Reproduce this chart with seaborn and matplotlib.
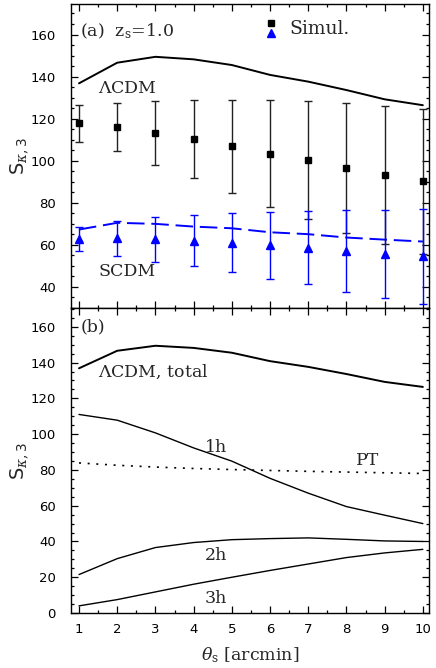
import matplotlib
matplotlib.use('Agg')
import matplotlib.pyplot as plt
import seaborn as sns
from matplotlib.legend_handler import HandlerBase
from matplotlib.lines import Line2D
from matplotlib.ticker import MultipleLocator

# Values
theta = [1, 2, 3, 4, 5, 6, 7, 8, 9, 10]

# panel (a): halo model predictions
lcdm_model = [136.8, 146.6, 149.4, 148.2, 145.5, 140.8, 137.6, 133.6, 129.2, 126.4]
scdm_model = [67.3, 70.5, 70.0, 68.7, 67.9, 66.0, 65.1, 63.5, 62.5, 61.6]

# panel (a): simulation measurements
sim_lcdm = [117.8, 116.1, 113.1, 110.2, 106.9, 103.3, 100.3, 96.5, 93.3, 90.3]
sim_lcdm_err = [8.7, 11.5, 15.3, 18.6, 22.0, 25.5, 28.0, 30.8, 32.8, 34.5]
sim_scdm = [62.8, 63.2, 62.6, 62.0, 61.1, 59.8, 58.7, 57.1, 55.8, 54.5]
sim_scdm_err = [5.9, 8.3, 10.6, 12.2, 14.0, 15.8, 17.4, 19.4, 21.0, 22.6]

# panel (b): LCDM decomposition
lcdm_total = lcdm_model
one_halo = [111.0, 107.8, 100.7, 92.3, 84.9, 75.3, 67.0, 59.5, 54.7, 50.0]
two_halo = [21.5, 30.4, 36.6, 39.4, 41.0, 41.6, 42.0, 41.2, 40.3, 40.0]
three_halo = [4.0, 7.5, 11.8, 16.1, 20.0, 23.8, 27.4, 31.0, 33.6, 35.6]
pert_theory = [83.9, 82.6, 81.6, 80.8, 80.2, 79.7, 79.2, 78.8, 78.4, 78.0]

sns.set_style('ticks')
plt.rcParams['font.family'] = ['DejaVu Sans']
plt.rcParams.update({
    'mathtext.fontset': 'dejavuserif',
    'xtick.direction': 'in', 'ytick.direction': 'in',
    'xtick.top': True, 'ytick.right': True,
    'xtick.major.size': 5, 'ytick.major.size': 5,
    'xtick.minor.size': 2.5, 'ytick.minor.size': 2.5,
    'xtick.major.width': 0.9, 'ytick.major.width': 0.9,
    'xtick.minor.width': 0.9, 'ytick.minor.width': 0.9,
    'axes.linewidth': 1.0,
    'xtick.labelsize': 9.5, 'ytick.labelsize': 9.5,
    'xtick.color': 'k', 'ytick.color': 'k', 'axes.edgecolor': 'k',
})
serif = dict(family='DejaVu Serif', fontsize=12.5)


class StackedMarkers(HandlerBase):
    # square above triangle, as in the original legend
    def create_artists(self, legend, orig_handle, xdescent, ydescent,
                       width, height, fontsize, trans):
        cx = 0.5 * width - xdescent
        cy = 0.5 * height - ydescent
        sq = Line2D([cx], [cy + 2.6], marker='s', ms=4.0, color='k', ls='none', transform=trans)
        tri = Line2D([cx], [cy - 4.2], marker='^', ms=5.5, color='b', ls='none', transform=trans)
        return [sq, tri]


fig = plt.figure(figsize=(4.36, 6.68), dpi=100)
ax1 = fig.add_axes([0.1628, 0.5389, 0.8211, 0.4551])
ax2 = fig.add_axes([0.1628, 0.0823, 0.8211, 0.4566])

# ---- panel (a)
sns.lineplot(x=theta, y=lcdm_model, ax=ax1, color='k', lw=1.4)
sns.lineplot(x=theta, y=scdm_model, ax=ax1, color='b', lw=1.4, linestyle=(0, (9, 3.5)))
ax1.errorbar(theta, sim_lcdm, yerr=sim_lcdm_err, fmt='s', color='k', ecolor='#222222',
             ms=4.2, capsize=3, elinewidth=1, capthick=1)
ax1.errorbar(theta, sim_scdm, yerr=sim_scdm_err, fmt='^', color='b', ecolor='b',
             ms=6.0, capsize=3, elinewidth=1, capthick=1)

ax1.text(1.03, 161.4, r'(a)  z$_{\rm s}$=1.0', va='center', ha='left', **serif)
ax1.text(1.5, 134.5, r'$\Lambda$CDM', va='center', ha='left', **serif)
ax1.text(1.5, 47.5, 'SCDM', va='center', ha='left', **serif)

ax1.legend(handles=[(Line2D([], []), Line2D([], []))], labels=['Simul.'],
           handler_map={tuple: StackedMarkers()}, loc='center left',
           bbox_to_anchor=(5.78, 162.8), bbox_transform=ax1.transData,
           frameon=False, borderpad=0, borderaxespad=0, handlelength=1.0,
           handletextpad=0.5, prop=dict(family='DejaVu Serif', size=13.5))

ax1.set_ylim(30, 174.5)
ax1.set_yticks([40, 60, 80, 100, 120, 140, 160])
ax1.tick_params(axis='x', labelbottom=False)

# ---- panel (b)
sns.lineplot(x=theta, y=lcdm_total, ax=ax2, color='k', lw=1.4)
sns.lineplot(x=theta, y=one_halo, ax=ax2, color='k', lw=1.0)
sns.lineplot(x=theta, y=two_halo, ax=ax2, color='k', lw=1.0)
sns.lineplot(x=theta, y=three_halo, ax=ax2, color='k', lw=1.0)
sns.lineplot(x=theta, y=pert_theory, ax=ax2, color='k', lw=1.2, linestyle=(0, (1.2, 4)))

ax2.text(1.03, 159.8, '(b)', va='center', ha='left', **serif)
ax2.text(1.5, 134.6, r'$\Lambda$CDM, total', va='center', ha='left', **serif)
ax2.text(4.3, 92.7, '1h', va='center', ha='left', **serif)
ax2.text(8.25, 85.4, 'PT', va='center', ha='left', **serif)
ax2.text(4.3, 32.3, '2h', va='center', ha='left', **serif)
ax2.text(4.3, 8.2, '3h', va='center', ha='left', **serif)

ax2.set_ylim(0, 170.5)
ax2.set_yticks([0, 20, 40, 60, 80, 100, 120, 140, 160])
ax2.set_xlabel(r'$\theta_{\rm s}$ [arcmin]', **serif)
ax2.xaxis.set_label_coords(0.5, -0.105)
ax2.xaxis.label.set_va('top')

for ax in (ax1, ax2):
    ax.set_xlim(0.79, 10.16)
    ax.xaxis.set_major_locator(MultipleLocator(1))
    ax.xaxis.set_minor_locator(MultipleLocator(0.5))
    ax.yaxis.set_minor_locator(MultipleLocator(5))
    ax.tick_params(axis='y', which='major', pad=11)
    ax.tick_params(axis='x', which='major', pad=7)
    ax.tick_params(which='both', top=True, right=True)
    ax.set_ylabel(r'S$_{\kappa,\mathsf{3}}$', fontsize=14, family='DejaVu Sans')
    ax.yaxis.set_label_coords(-0.112, 0.5)

fig.savefig('out.png', dpi=100)
